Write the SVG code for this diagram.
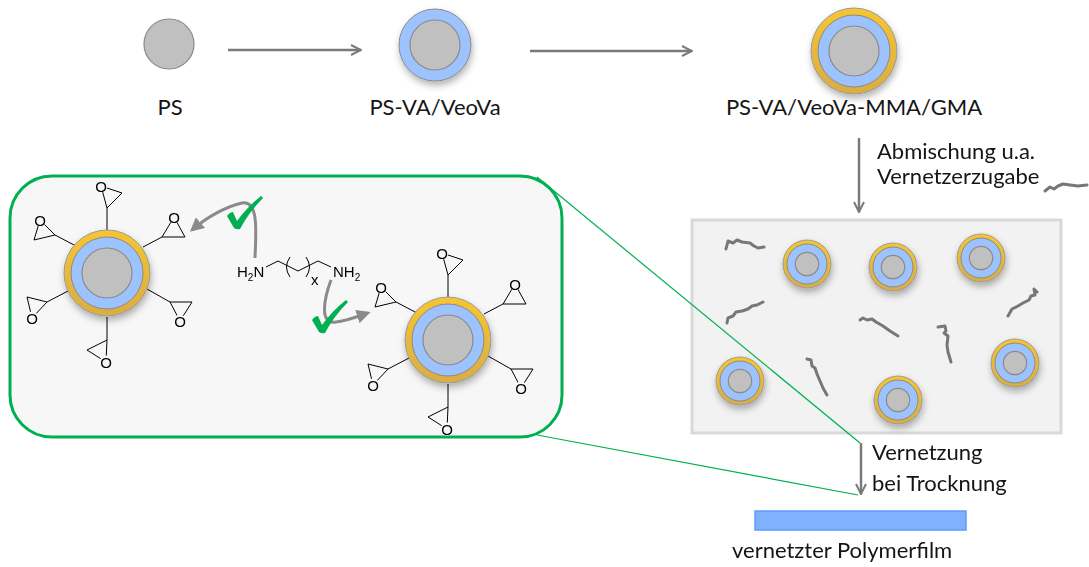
<svg xmlns="http://www.w3.org/2000/svg" xmlns:xlink="http://www.w3.org/1999/xlink" width="1089" height="567" viewBox="0 0 1089 567">
  <style>
    .lbl { font-family: Lato, "Liberation Sans", sans-serif; font-size: 22px; fill: #151515; }
    .chem { font-family: "Liberation Sans", Arial, sans-serif; font-size: 15px; fill: #000; }
    .flow { stroke: #7a7a7a; stroke-width: 2.5; fill: none; }
    .curve { stroke: #8a8a8a; stroke-width: 3; fill: none; }
    .bond { stroke: #000; stroke-width: 1; fill: none; }
    .chain { stroke: #777; stroke-width: 3; fill: none; stroke-linecap: round; stroke-linejoin: round; }
    .zoom { stroke: #00b050; stroke-width: 1.2; fill: none; }
    .core { fill: #c0c0c0; stroke: #8a8a8a; stroke-width: 1.2; }
    .shell { fill: #9dc3ff; stroke: #8a8a8a; stroke-width: 1; }
    .gold { fill: url(#goldGrad); stroke: #9a9a9a; stroke-width: 1; }
    .obg { fill: #f7f7f7; }
    .tick { fill: #00b050; }
  </style>
  <defs>
    <linearGradient id="goldGrad" x1="0" y1="0" x2="0" y2="1">
      <stop offset="0" stop-color="#f7c531"/>
      <stop offset="1" stop-color="#d8ad45"/>
    </linearGradient>
    <filter id="shadow" x="-40%" y="-40%" width="180%" height="190%">
      <feDropShadow dx="1" dy="4" stdDeviation="3.5" flood-color="#000" flood-opacity="0.3"/>
    </filter>
    <marker id="open" viewBox="0 0 12 12" refX="11" refY="6" markerWidth="12" markerHeight="12" markerUnits="userSpaceOnUse" orient="auto">
      <polyline points="1,1 11,6 1,11" fill="none" stroke="#7a7a7a" stroke-width="2"/>
    </marker>
    <marker id="solid" viewBox="0 0 10 10" refX="8" refY="5" markerWidth="14" markerHeight="14" markerUnits="userSpaceOnUse" orient="auto">
      <polygon points="0,0 10,5 0,10" fill="#8a8a8a"/>
    </marker>

    <!-- core-shell particles -->
    <g id="ps">
      <circle class="core" r="25"/>
    </g>
    <g id="ps-va">
      <circle class="shell" r="36" stroke="none"/>
      <circle class="core" r="25"/>
    </g>
    <g id="ps-gma">
      <circle class="gold" r="43"/>
      <circle class="shell" r="36"/>
      <circle class="core" r="25"/>
    </g>
    <g id="ps-gma-small">
      <circle class="gold" r="24"/>
      <circle class="shell" r="20"/>
      <circle class="core" r="11.7"/>
    </g>

    <!-- epoxide arms around a particle centred at the origin -->
    <g id="epoxy-arms">
      <path class="bond" d="M0,-42 L0,-65 M-31,-27 L-52,-38 M36,-26 L55,-36 M-39,18 L-60,29 M40,16 L63,29 M0,44 L0,67"/>
      <polygon class="bond" points="0,-65 15,-80 -6,-87"/>
      <polygon class="bond" points="-52,-38 -73,-33 -67,-53"/>
      <polygon class="bond" points="55,-36 78,-36 67,-56"/>
      <polygon class="bond" points="-60,29 -80,24 -75,45"/>
      <polygon class="bond" points="63,29 85,29 73,48"/>
      <polygon class="bond" points="0,67 -20,77 -1,89"/>
      <circle class="obg" cx="-6" cy="-87" r="6.5"/>
      <circle class="obg" cx="-67" cy="-53" r="6.5"/>
      <circle class="obg" cx="67" cy="-56" r="6.5"/>
      <circle class="obg" cx="-75" cy="45" r="6.5"/>
      <circle class="obg" cx="73" cy="48" r="6.5"/>
      <circle class="obg" cx="-1" cy="89" r="6.5"/>
      <g class="chem" text-anchor="middle">
        <text x="-6" y="-81.5">O</text>
        <text x="-67" y="-47.5">O</text>
        <text x="67" y="-50.5">O</text>
        <text x="-75" y="50.5">O</text>
        <text x="73" y="53.5">O</text>
        <text x="-1" y="94.5">O</text>
      </g>
    </g>

    <path id="check" d="M227,216 Q230,212 233,212 L237,221 Q248,206 261,196 L263,198 Q249,212 240,229 Q237,230 234,228 Z"/>
  </defs>

  <!-- synthesis sequence -->
  <g id="node-ps">
    <use xlink:href="#ps" x="169" y="44"/>
    <text class="lbl" x="170" y="115" text-anchor="middle">PS</text>
  </g>
  <g id="node-ps-va">
    <use xlink:href="#ps-va" x="435" y="45" filter="url(#shadow)"/>
    <text class="lbl" x="435" y="115" text-anchor="middle">PS-VA/VeoVa</text>
  </g>
  <g id="node-ps-gma">
    <use xlink:href="#ps-gma" x="854" y="51" filter="url(#shadow)"/>
    <text class="lbl" x="854" y="115" text-anchor="middle">PS-VA/VeoVa-MMA/GMA</text>
  </g>

  <!-- blend with crosslinker -->
  <g id="node-blend">
    <rect x="692" y="220" width="369" height="213" fill="#f2f2f2" stroke="#d9d9d9" stroke-width="3"/>
    <path class="chain" d="M726,249 L728,241 L733,243 L737,240 L742,242 L750,243 L754,246 L758,248 L764,247"/>
    <path class="chain" d="M727,323 L728,318 L733,316 L736,312 L742,311 L748,309 L752,306 L757,305 L763,302"/>
    <path class="chain" d="M860,320 L863,318 L867,320 L872,319 L876,322 L883,326 L890,331 L898,336"/>
    <path class="chain" d="M938,327 L945,326 L946,331 L944,333 L948,336 L947,345 L948,352 L951,362"/>
    <path class="chain" d="M1008,316 L1012,309 L1018,306 L1023,303 L1029,300 L1031,296 L1035,295 L1034,289 L1037,292"/>
    <path class="chain" d="M807,359 L811,360 L812,366 L815,368 L817,374 L820,381 L823,388 L827,395"/>
    <g filter="url(#shadow)">
      <use xlink:href="#ps-gma-small" x="807" y="264"/>
      <use xlink:href="#ps-gma-small" x="893" y="267"/>
      <use xlink:href="#ps-gma-small" x="981" y="258"/>
      <use xlink:href="#ps-gma-small" x="740" y="381"/>
      <use xlink:href="#ps-gma-small" x="898" y="400"/>
      <use xlink:href="#ps-gma-small" x="1015" y="363"/>
    </g>
  </g>

  <!-- final film -->
  <g id="node-film">
    <rect x="755" y="511" width="211" height="19" fill="#7fb1ff" stroke="#5f9cf7" stroke-width="1.5"/>
    <text class="lbl" x="732" y="558" font-size="23">vernetzter Polymerfilm</text>
  </g>

  <!-- crosslinking detail -->
  <g id="node-detail">
    <rect x="10" y="176" width="552" height="261" rx="42" ry="42" fill="#f7f7f7" stroke="#00b050" stroke-width="3"/>
    <use xlink:href="#epoxy-arms" x="107" y="273"/>
    <use xlink:href="#ps-gma" x="107" y="273" filter="url(#shadow)"/>
    <use xlink:href="#epoxy-arms" x="448" y="340"/>
    <use xlink:href="#ps-gma" x="448" y="340" filter="url(#shadow)"/>
    <g id="diamine">
      <text class="chem" x="237" y="277">H<tspan font-size="10" dy="4">2</tspan><tspan dy="-4">N</tspan></text>
      <polyline class="bond" points="266,267 278,261 298,271 318,261 331,267"/>
      <path class="bond" d="M290,257 Q283,267 290,277"/>
      <path class="bond" d="M306,257 Q313,267 306,277"/>
      <text class="chem" x="311" y="285" font-size="11">x</text>
      <text class="chem" x="333" y="277">NH<tspan font-size="10" dy="4">2</tspan></text>
    </g>
    <path class="curve" d="M255,258 C256,232 259,200 242,203 C228,206 208,216 192,230" marker-end="url(#solid)"/>
    <path class="curve" d="M331,280 C325,296 318,325 336,322 C346,321 356,317 368,313" marker-end="url(#solid)"/>
    <use xlink:href="#check" class="tick"/>
    <use xlink:href="#check" class="tick" x="85" y="104"/>
  </g>

  <!-- connectors -->
  <g id="connectors">
    <line class="flow" x1="228" y1="50" x2="361" y2="50" marker-end="url(#open)"/>
    <line class="flow" x1="530" y1="51" x2="692" y2="51" marker-end="url(#open)"/>
    <line class="flow" x1="859" y1="138" x2="859" y2="212" marker-end="url(#open)"/>
    <line class="flow" x1="861" y1="443" x2="861" y2="494" marker-end="url(#open)"/>
    <line class="zoom" x1="537" y1="177" x2="860" y2="443"/>
    <line class="zoom" x1="537" y1="435" x2="858" y2="495"/>
  </g>

  <!-- step labels -->
  <g id="label-blend">
    <text class="lbl" x="877" y="159">Abmischung u.a.</text>
    <text class="lbl" x="877" y="184">Vernetzerzugabe</text>
    <path class="chain" stroke-width="2.5" d="M1045,191 L1050,187 L1054,189 L1058,186 L1063,184 L1070,185 L1078,186 L1087,185"/>
  </g>
  <g id="label-cure">
    <text class="lbl" x="872" y="460">Vernetzung</text>
    <text class="lbl" x="872" y="491">bei Trocknung</text>
  </g>
</svg>
